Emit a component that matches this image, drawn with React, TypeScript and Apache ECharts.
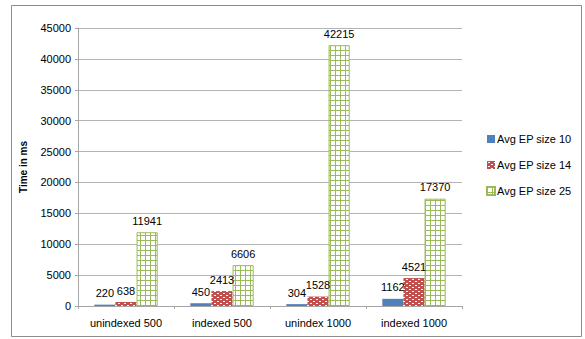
import React, { useEffect, useRef } from "react";
import * as echarts from "echarts";

const categories = ["unindexed 500", "indexed 500", "unindex 1000", "indexed 1000"];
const seriesNames = ["Avg EP size 10", "Avg EP size 14", "Avg EP size 25"];
const size10 = [220, 450, 304, 1162];
const size14 = [638, 2413, 1528, 4521];
const size25 = [11941, 6606, 42215, 17370];
const yTicks = { min: 0, max: 45000, interval: 5000 };

function greenPattern(): HTMLCanvasElement {
  const c = document.createElement("canvas");
  c.width = 5;
  c.height = 5;
  const ctx = c.getContext("2d")!;
  ctx.fillStyle = "#ffffff";
  ctx.fillRect(0, 0, 5, 5);
  ctx.fillStyle = "#9BBB59";
  ctx.fillRect(0, 0, 5, 1);
  ctx.fillRect(0, 0, 1, 5);
  return c;
}

function redPattern(): HTMLCanvasElement {
  const c = document.createElement("canvas");
  c.width = 6;
  c.height = 4;
  const ctx = c.getContext("2d")!;
  ctx.fillStyle = "#C0504D";
  ctx.fillRect(0, 0, 6, 4);
  ctx.fillStyle = "#ffffff";
  ctx.fillRect(1, 1, 2, 1);
  ctx.fillRect(4, 3, 2, 1);
  return c;
}

export default function App() {
  const ref = useRef<HTMLDivElement>(null);
  useEffect(() => {
    if (!ref.current) return;
    const chart = echarts.init(ref.current, undefined, { renderer: "svg" });
    const font = "Liberation Sans";
    const label = {
      show: true,
      position: "top" as const,
      color: "#000",
      fontSize: 11,
      fontFamily: font,
      distance: 6,
    };
    chart.setOption({
      animation: false,
      textStyle: { fontFamily: font },
      graphic: [
        {
          type: "rect",
          shape: { x: 11.5, y: 5.5, width: 570, height: 331 },
          style: { fill: "none", stroke: "#8c8c8c", lineWidth: 1 },
          silent: true,
        },
      ],
      grid: { left: 78, right: 123, top: 28, bottom: 33 },
      legend: {
        orient: "vertical",
        left: 481,
        top: 127,
        itemWidth: 8,
        itemHeight: 8,
        itemGap: 12,
        icon: "rect",
        data: seriesNames,
        textStyle: { fontSize: 11, color: "#000", fontFamily: font, lineHeight: 14, padding: [0, 0, 0, -3] },
      },
      xAxis: {
        type: "category",
        data: categories,
        axisLine: { lineStyle: { color: "#a6a6a6", width: 1 } },
        axisTick: { show: true, length: 3, lineStyle: { color: "#a6a6a6" } },
        axisLabel: { color: "#000", fontSize: 11, fontFamily: font, margin: 11 },
      },
      yAxis: {
        type: "value",
        min: yTicks.min,
        max: yTicks.max,
        interval: yTicks.interval,
        name: "Time in ms",
        nameLocation: "middle",
        nameRotate: 90,
        nameGap: 50,
        nameTextStyle: { fontWeight: "bold", fontSize: 10, color: "#000", fontFamily: font },
        axisLine: { show: true, lineStyle: { color: "#a6a6a6", width: 1 } },
        axisTick: { show: true, length: 3, lineStyle: { color: "#a6a6a6" } },
        axisLabel: {
          color: "#000",
          fontSize: 11,
          fontFamily: font,
          margin: 7,
          formatter: (v: number) => String(v),
        },
        splitLine: { lineStyle: { color: "#b3b3b3", width: 1 } },
      },
      series: [
        {
          name: seriesNames[0],
          type: "bar",
          data: size10,
          barGap: "0%",
          barCategoryGap: "34%",
          itemStyle: { color: "#4F81BD" },
          label,
        },
        {
          name: seriesNames[1],
          type: "bar",
          data: size14,
          itemStyle: { color: { image: redPattern(), repeat: "repeat" } },
          label,
        },
        {
          name: seriesNames[2],
          type: "bar",
          data: size25,
          itemStyle: {
            color: { image: greenPattern(), repeat: "repeat" },
            borderColor: "#9BBB59",
            borderWidth: 1,
          },
          label,
        },
      ],
    });
    return () => chart.dispose();
  }, []);
  return (
    <div
      ref={ref}
      style={{ position: "fixed", left: 0, top: 0, width: 585, height: 339, background: "#fff" }}
    />
  );
}
